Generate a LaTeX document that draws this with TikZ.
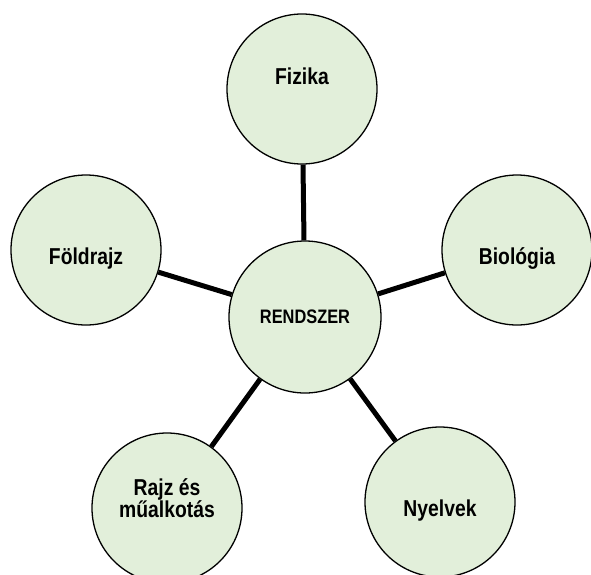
\documentclass[tikz,border=0pt]{standalone}
\usepackage{fontspec}
\setmainfont{Liberation Sans}[FakeStretch=0.84]
\usepackage[dvipsnames]{xcolor}
\definecolor{hellgruen}{HTML}{E2EFDA}
\usetikzlibrary{positioning}

\begin{document}
\begin{tikzpicture}[x=1pt,y=-1pt,
    fach/.style={circle, draw, line width=1.3pt, fill=hellgruen,
        minimum size=150pt, inner sep=0pt, align=center,
        font=\bfseries\fontsize{23}{21}\selectfont},
    tiefer/.style={text height=28pt, text depth=0pt},
    hoeher/.style={text height=16pt, text depth=26pt},
    verbindung/.style={line width=5pt}]
    \useasboundingbox (0,0) rectangle (591,574);

    % Mittelpunkt
    \node[fach, minimum size=152pt, font=\bfseries\fontsize{19.5}{21}\selectfont] (rendszer) at (305,317) {RENDSZER};

    % Faecher ringsum
    \node[fach, hoeher] (fizika) at (302,89) {Fizika};
    \node[fach, tiefer] (foldrajz) at (86,250) {Földrajz};
    \node[fach, tiefer] (biologia) at (517,250) {Biológia};
    \node[fach, text depth=20pt] (rajz) at (167,508) {Rajz és\\műalkotás};
    \node[fach, tiefer] (nyelvek) at (440,502) {Nyelvek};

    % Verbindungen
    \draw[verbindung] (rendszer) -- (fizika);
    \draw[verbindung] (rendszer) -- (foldrajz);
    \draw[verbindung] (rendszer) -- (biologia);
    \draw[verbindung] (rendszer) -- (rajz);
    \draw[verbindung] (rendszer) -- (nyelvek);
\end{tikzpicture}
\end{document}
